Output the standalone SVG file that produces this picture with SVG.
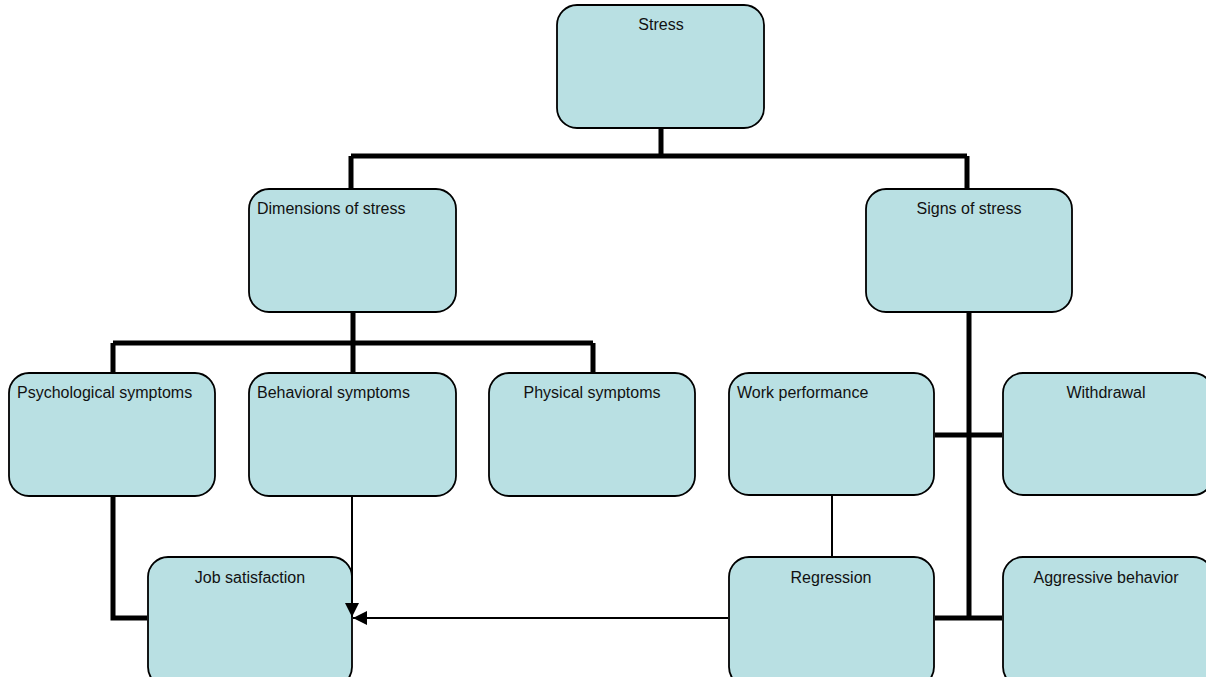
<svg xmlns="http://www.w3.org/2000/svg" width="1206" height="677" viewBox="0 0 1206 677">
<defs>
<style>
.box{fill:#b9e0e3;stroke:#000;stroke-width:1.8}
.t{font-family:"Liberation Sans",Arial,sans-serif;font-size:16px;fill:#111}
.c{text-anchor:middle}
.thick{stroke:#000;stroke-width:5;fill:none}
.thin{stroke:#000;stroke-width:2;fill:none}
</style>
<marker id="ah" viewBox="0 0 10 10" refX="10" refY="5" markerWidth="7" markerHeight="7" markerUnits="strokeWidth" orient="auto">
<path d="M0,0 L10,5 L0,10 z" fill="#000"/>
</marker>
</defs>
<rect width="1206" height="677" fill="#fff"/>
<g id="stress"><rect class="box" x="557" y="5" width="207" height="123" rx="20"/><text class="t c" x="661" y="30">Stress</text></g>
<g id="dimensions"><rect class="box" x="249" y="189" width="207" height="123" rx="20"/><text class="t" x="257" y="214">Dimensions of stress</text></g>
<g id="signs"><rect class="box" x="866" y="189" width="206" height="123" rx="20"/><text class="t c" x="969" y="214">Signs of stress</text></g>
<g id="psychological"><rect class="box" x="9" y="373" width="206" height="123" rx="20"/><text class="t" x="17" y="398">Psychological symptoms</text></g>
<g id="behavioral"><rect class="box" x="249" y="373" width="207" height="123" rx="20"/><text class="t" x="257" y="398">Behavioral symptoms</text></g>
<g id="physical"><rect class="box" x="489" y="373" width="206" height="123" rx="20"/><text class="t c" x="592" y="398">Physical symptoms</text></g>
<g id="work"><rect class="box" x="729" y="373" width="205" height="122" rx="20"/><text class="t" x="737" y="398">Work performance</text></g>
<g id="withdrawal"><rect class="box" x="1003" y="373" width="210" height="122" rx="20"/><text class="t c" x="1106" y="398">Withdrawal</text></g>
<g id="job"><rect class="box" x="148" y="557" width="204" height="130" rx="20"/><text class="t c" x="250" y="583">Job satisfaction</text></g>
<g id="regression"><rect class="box" x="729" y="557" width="205" height="130" rx="20"/><text class="t c" x="831" y="583">Regression</text></g>
<g id="aggressive"><rect class="box" x="1003" y="557" width="210" height="130" rx="20"/><text class="t c" x="1106" y="583">Aggressive behavior</text></g>
<g id="connectors">
<path class="thick" d="M661,129 V156 M351,156 H967 M351,156 V188 M967,156 V188"/>
<path class="thick" d="M353,313 V343 M113,343 H593 M113,343 V372 M353,343 V372 M593,343 V372"/>
<path class="thick" d="M969,313 V618 M935,435 H1002 M935,618 H1002"/>
<path class="thick" d="M113,497 V618 H147"/>
<path class="thin" d="M832,496 V556"/>
<path class="thin" d="M352,497 V617" marker-end="url(#ah)"/>
<path class="thin" d="M728,618 H353" marker-end="url(#ah)"/>
</g>
</svg>
